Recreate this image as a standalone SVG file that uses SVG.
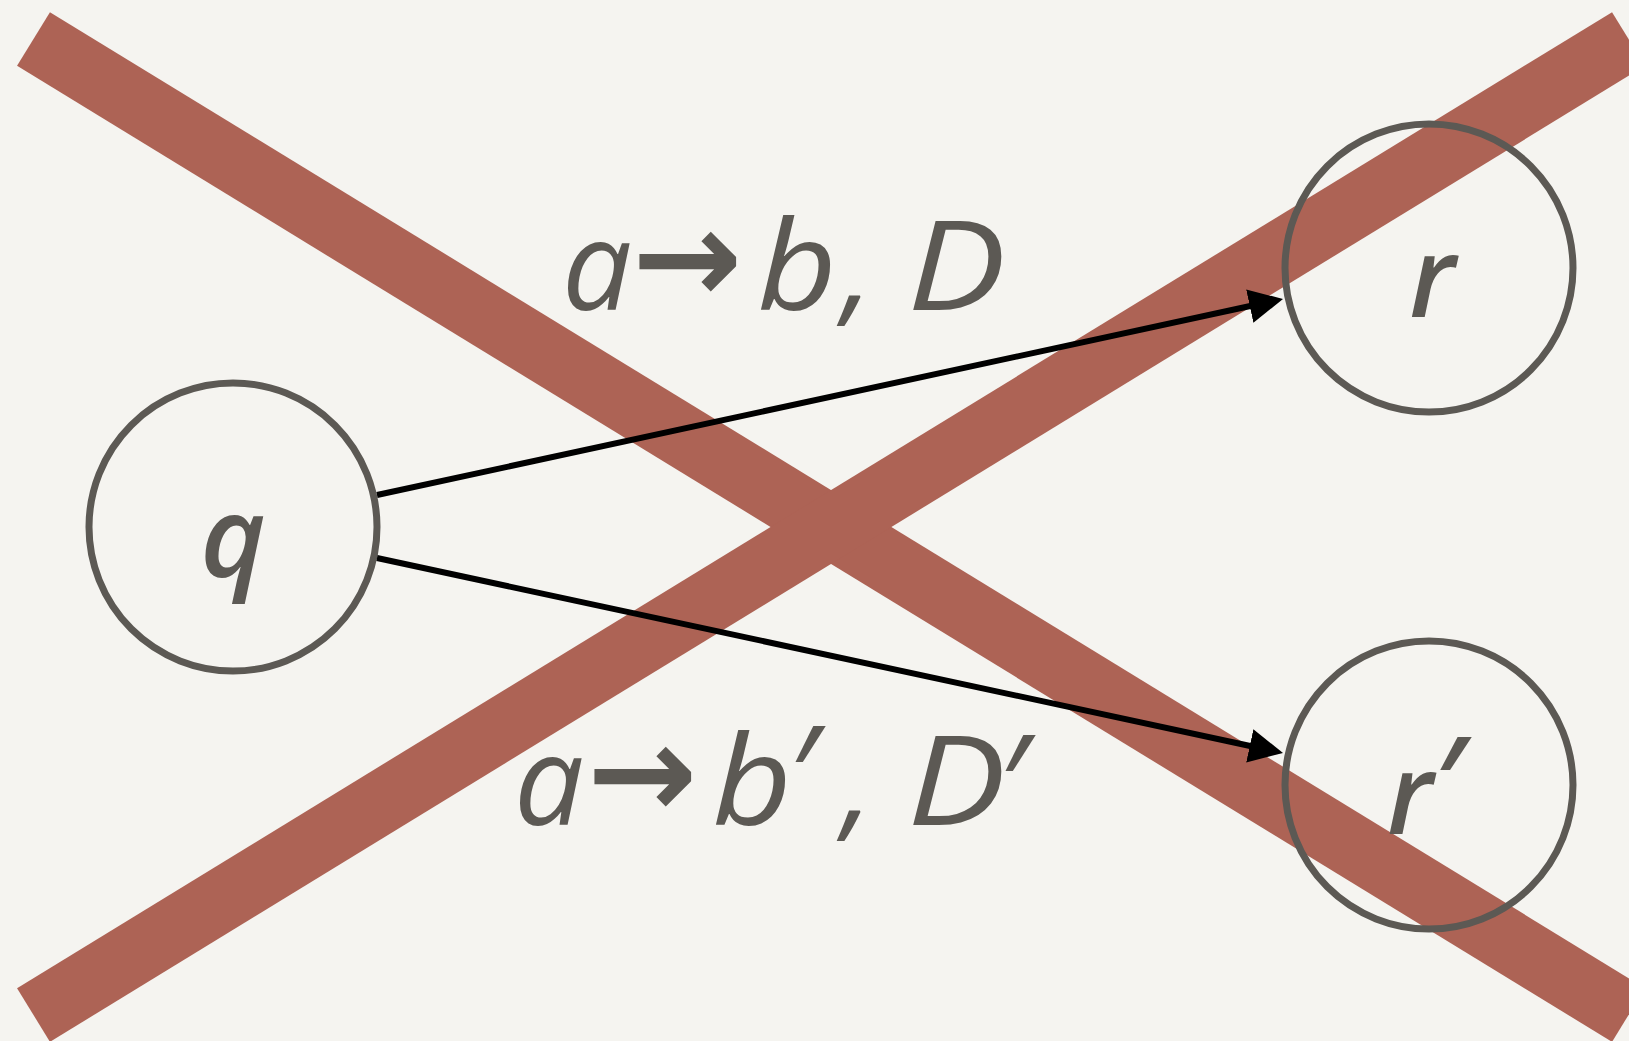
<svg xmlns="http://www.w3.org/2000/svg" width="1629" height="1041" viewBox="0 0 1629 1041">
<style>
.bar{stroke:#ad6355;stroke-width:63;stroke-linecap:butt;fill:none}
.node{fill:none;stroke:#5c5954;stroke-width:7}
.nlabel{font-family:"Open Sans","Noto Sans",sans-serif;font-style:italic;font-weight:600;font-size:112px;fill:#5c5954}
.elabel{font-family:"Open Sans","Noto Sans",sans-serif;font-style:italic;font-size:124px;fill:#5c5954}
.arr{font-family:"DejaVu Sans",sans-serif;font-style:normal;font-weight:bold;font-size:132px}
.pr{font-size:140px}
.edge{stroke:#000;stroke-width:6;fill:none}
</style>
<defs>
<marker id="ah" viewBox="0 0 34 34" refX="4" refY="17" markerWidth="34" markerHeight="34" markerUnits="userSpaceOnUse" orient="auto">
<path d="M0,0 L34,17 L0,34 Z" fill="#000"/>
</marker>
</defs>
<rect width="1629" height="1041" fill="#f5f4f0"/>
<g id="cross">
<line class="bar" x1="33.5" y1="39" x2="1628.5" y2="1015"/>
<line class="bar" x1="33.5" y1="1015" x2="1628.5" y2="39"/>
</g>
<g id="node-q">
<circle class="node" cx="233" cy="527" r="144"/>
<text class="nlabel" x="233" y="577" text-anchor="middle" font-size="116">q</text>
</g>
<g id="node-r">
<circle class="node" cx="1429" cy="268" r="144"/>
<text class="nlabel" x="1432" y="317" text-anchor="middle">r</text>
</g>
<g id="node-r2">
<circle class="node" cx="1429" cy="785" r="144"/>
<text class="nlabel" y="834"><tspan x="1387">r</tspan><tspan x="1432" y="828" font-size="126">′</tspan></text>
</g>
<g id="connectors">
<line class="edge" x1="377" y1="495" x2="1253.7" y2="305.3" marker-end="url(#ah)"/>
<line class="edge" x1="377" y1="558" x2="1253.7" y2="746.7" marker-end="url(#ah)"/>
</g>
<g id="labels">
<text class="elabel" y="310"><tspan x="562">a</tspan><tspan class="arr" x="632" y="303">→</tspan><tspan x="757" y="310" textLength="80" lengthAdjust="spacingAndGlyphs">b</tspan><tspan x="842">,</tspan><tspan x="907" textLength="99" lengthAdjust="spacingAndGlyphs">D</tspan></text>
<text class="elabel" y="825"><tspan x="514">a</tspan><tspan class="arr" x="587" y="818">→</tspan><tspan x="712" y="825" textLength="80" lengthAdjust="spacingAndGlyphs">b</tspan><tspan class="pr" x="786" y="826">′</tspan><tspan x="842" y="825">,</tspan><tspan x="907" textLength="99" lengthAdjust="spacingAndGlyphs">D</tspan><tspan class="pr" x="996" y="835">′</tspan></text>
</g>
</svg>
